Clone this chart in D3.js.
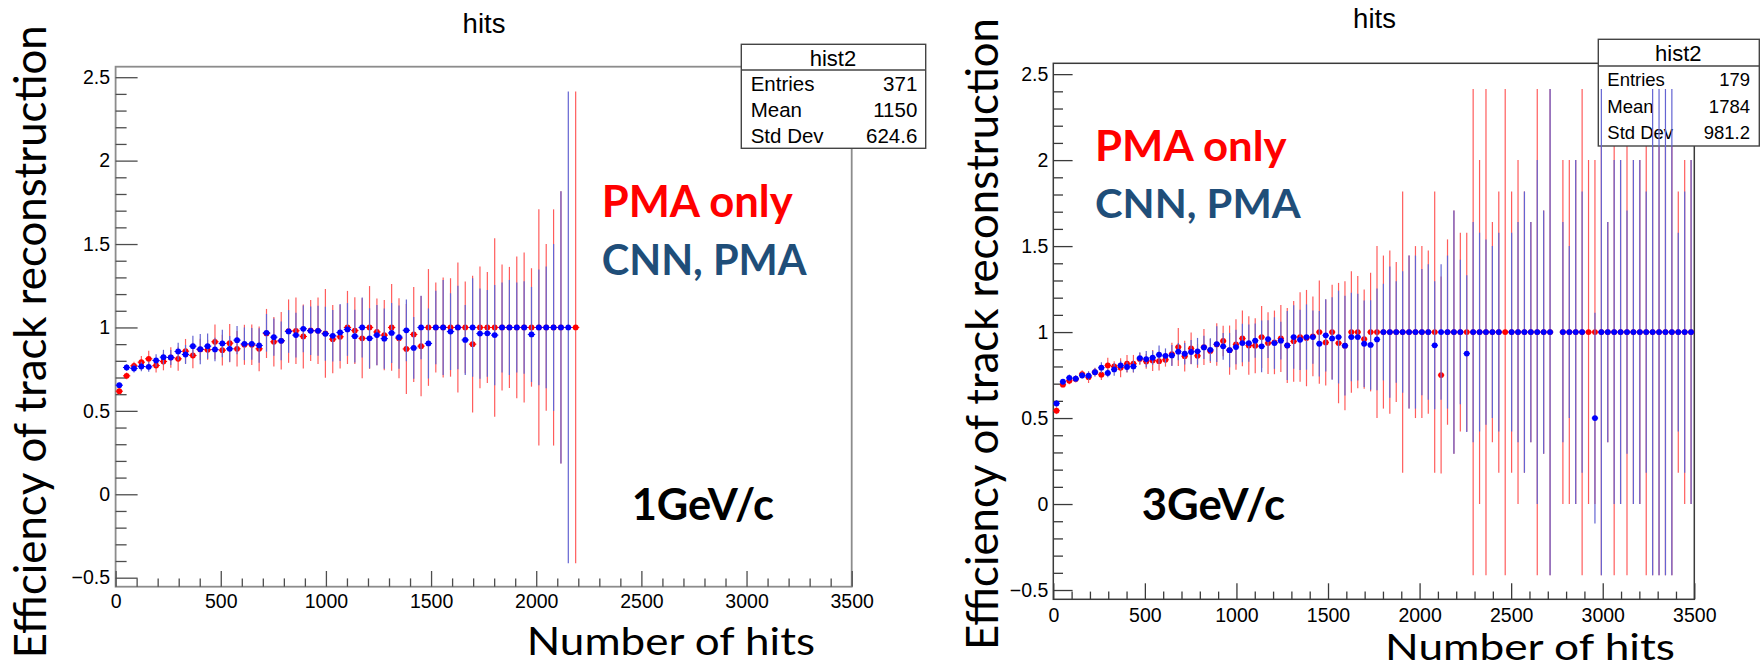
<!DOCTYPE html>
<html><head><meta charset="utf-8">
<script src="https://cdn.jsdelivr.net/npm/d3@7"></script>
<style>body{margin:0;background:#fff}svg{display:block}</style>
</head><body>
<svg id="c" width="1761" height="667"></svg>
<script>
// ---------------- DATA ----------------
const binWidth = 35;
const binCenters = [17.5,52.5,87.5,122.5,157.5,192.5,227.5,262.5,297.5,332.5,
 367.5,402.5,437.5,472.5,507.5,542.5,577.5,612.5,647.5,682.5,
 717.5,752.5,787.5,822.5,857.5,892.5,927.5,962.5,997.5,1032.5,
 1067.5,1102.5,1137.5,1172.5,1207.5,1242.5,1277.5,1312.5,1347.5,1382.5,
 1417.5,1452.5,1487.5,1522.5,1557.5,1592.5,1627.5,1662.5,1697.5,1732.5,
 1767.5,1802.5,1837.5,1872.5,1907.5,1942.5,1977.5,2012.5,2047.5,2082.5,
 2117.5,2152.5,2187.5,2222.5,2257.5,2292.5,2327.5,2362.5,2397.5,2432.5,
 2467.5,2502.5,2537.5,2572.5,2607.5,2642.5,2677.5,2712.5,2747.5,2782.5,
 2817.5,2852.5,2887.5,2922.5,2957.5,2992.5,3027.5,3062.5,3097.5,3132.5,
 3167.5,3202.5,3237.5,3272.5,3307.5,3342.5,3377.5,3412.5,3447.5,3482.5];

const xTicks = [0,500,1000,1500,2000,2500,3000,3500];
const xTickLabels = ["0","500","1000","1500","2000","2500","3000","3500"];
const yTicks = [-0.5,0,0.5,1,1.5,2,2.5];
const yTickLabels = ["\u22120.5","0","0.5","1","1.5","2","2.5"];

// 1 GeV/c panel
const leftPMA = [0.618,0.710,0.770,0.792,0.812,0.772,0.796,0.820,0.812,0.858,
 0.832,0.868,0.866,0.914,0.864,0.906,0.872,0.896,0.896,0.872,
 0.964,0.914,0.920,0.978,0.980,0.946,0.982,0.980,0.964,0.930,
 0.944,1.0,0.981,0.935,1.0,0.973,0.954,1.0,0.935,0.871,
 0.958,0.888,1.0,1.0,1.0,1.0,1.0,1.0,0.900,1.0,
 1.0,1.0,1.0,1.0,1.0,1.0,1.0,1.0,1.0,1.0,
 1.0,null,1.0];
const leftPMAErr = [0.020,0.020,0.025,0.037,0.048,0.042,0.053,0.062,0.072,0.073,
 0.076,0.065,0.060,0.104,0.092,0.115,0.106,0.120,0.121,0.134,
 0.147,0.148,0.172,0.190,0.199,0.192,0.183,0.199,0.266,0.205,
 0.190,0.219,0.200,0.240,0.248,0.200,0.210,0.260,0.240,0.270,
 0.285,0.300,0.350,0.270,0.300,0.295,0.390,0.275,0.410,0.365,
 0.333,0.535,0.378,0.363,0.425,0.450,0.355,0.708,0.500,0.708,
 0.816,null,1.414];
const leftCNN = [0.654,0.760,0.754,0.766,0.764,0.802,0.822,0.820,0.856,0.838,
 0.888,0.870,0.888,0.868,0.904,0.872,0.924,0.902,0.902,0.892,
 0.968,0.942,0.920,0.976,0.954,0.992,0.980,0.980,0.962,0.950,
 0.970,0.988,0.948,1.0,0.935,0.954,0.933,0.967,0.942,0.983,
 0.877,1.0,0.904,1.0,1.0,0.975,1.0,0.925,1.0,0.963,
 0.965,0.954,1.0,1.0,1.0,1.0,0.958,1.0,1.0,1.0,
 1.0,1.0,null];
const leftCNNErr = [0.015,0.020,0.024,0.028,0.030,0.038,0.044,0.045,0.052,0.057,
 0.062,0.090,0.075,0.070,0.082,0.077,0.084,0.098,0.095,0.103,
 0.113,0.112,0.116,0.128,0.134,0.140,0.145,0.150,0.162,0.154,
 0.171,0.158,0.158,0.180,0.180,0.180,0.180,0.180,0.190,0.185,
 0.185,0.190,0.210,0.220,0.285,0.230,0.250,0.210,0.295,0.270,
 0.260,0.300,0.270,0.285,0.270,0.277,0.285,0.347,0.365,0.500,
 0.816,1.414,null];

// 3 GeV/c panel
const rightPMA = [0.543,0.694,0.717,0.727,0.756,0.738,0.767,0.752,0.806,0.800,
 0.793,0.816,0.816,0.843,0.829,0.835,0.831,0.839,0.872,0.913,
 0.860,0.905,0.862,0.913,0.890,0.928,0.948,0.895,0.928,0.963,
 0.922,0.921,0.971,0.936,0.940,0.963,0.922,0.946,0.971,0.965,
 0.975,1.0,0.940,1.0,0.936,0.921,1.0,1.0,0.959,1.0,
 1.0,1.0,1.0,1.0,1.0,1.0,1.0,1.0,1.0,1.0,
 0.750,1.0,1.0,1.0,1.0,1.0,1.0,1.0,1.0,1.0,
 1.0,1.0,1.0,1.0,1.0,1.0,1.0,1.0,null,1.0,
 1.0,1.0,1.0,1.0,1.0,1.0,1.0,1.0,1.0,1.0,
 1.0,1.0,1.0,1.0,1.0,1.0,1.0,1.0,1.0,1.0];
const rightPMAErr = [0.020,0.015,0.020,0.020,0.022,0.034,0.025,0.030,0.045,0.030,
 0.055,0.051,0.051,0.035,0.043,0.061,0.054,0.040,0.066,0.110,
 0.090,0.092,0.070,0.105,0.070,0.124,0.089,0.143,0.147,0.162,
 0.170,0.160,0.180,0.180,0.185,0.195,0.218,0.235,0.260,0.280,
 0.232,0.300,0.250,0.275,0.350,0.375,0.353,0.326,0.289,0.345,
 0.500,0.445,0.475,0.407,0.818,0.445,0.500,0.500,0.475,0.818,
 0.573,0.539,0.707,0.578,0.578,1.414,1.000,1.414,0.640,0.818,
 1.414,0.818,1.000,0.818,0.640,1.414,0.707,1.414,null,1.000,
 1.000,1.000,1.414,1.000,1.000,1.414,0.640,1.414,1.000,1.414,
 1.000,1.000,1.414,1.414,1.414,1.414,1.414,0.818,1.000,1.000];
const rightCNN = [0.585,0.711,0.734,0.729,0.748,0.746,0.767,0.793,0.762,0.783,
 0.806,0.797,0.800,0.849,0.843,0.851,0.868,0.862,0.864,0.886,
 0.874,0.884,0.888,0.911,0.897,0.930,0.917,0.895,0.913,0.936,
 0.936,0.950,0.917,0.959,0.936,0.950,0.922,0.971,0.955,0.971,
 0.971,0.932,0.981,0.963,0.971,0.921,0.971,0.971,0.932,0.925,
 0.957,1.0,1.0,1.0,1.0,1.0,1.0,1.0,1.0,0.923,
 1.0,1.0,1.0,1.0,0.875,1.0,1.0,1.0,1.0,1.0,
 null,1.0,1.0,1.0,1.0,1.0,1.0,1.0,null,1.0,
 1.0,1.0,1.0,null,0.500,1.0,1.0,1.0,1.0,1.0,
 1.0,1.0,1.0,1.0,1.0,1.0,1.0,1.0,1.0,1.0];
const rightCNNErr = [0.020,0.015,0.020,0.020,0.020,0.025,0.024,0.031,0.025,0.037,
 0.027,0.030,0.034,0.034,0.047,0.041,0.054,0.043,0.061,0.050,
 0.063,0.070,0.078,0.068,0.067,0.104,0.078,0.100,0.100,0.112,
 0.108,0.100,0.150,0.110,0.150,0.110,0.200,0.185,0.175,0.190,
 0.155,0.190,0.210,0.240,0.270,0.290,0.257,0.252,0.252,0.260,
 0.296,0.281,0.382,0.295,0.353,0.445,0.445,0.367,0.394,0.372,
 0.394,0.445,0.707,0.420,0.456,0.640,0.578,0.539,0.500,0.578,
 null,0.578,0.640,0.818,0.640,1.000,0.707,1.414,null,0.640,
 0.500,1.000,0.818,null,0.613,1.414,0.640,1.000,1.000,0.707,
 1.000,1.000,0.818,1.414,1.414,1.414,1.414,0.578,0.818,1.000];

const statLabels = ["Entries","Mean","Std Dev"];
const leftStats = ["371","1150","624.6"];
const rightStats = ["179","1784","981.2"];
const histName = "hist2";
const plotTitle = "hits";
const xTitle = "Number of hits";
const yTitle = "Efficiency of track reconstruction";
const seriesNames = ["PMA only","CNN, PMA"];
const panelLabels = ["1GeV/c","3GeV/c"];

// ---------------- DRAW ----------------
const svg = d3.select("#c");
svg.append("rect").attr("width",1761).attr("height",667).attr("fill","#fff");

const ROOTFONT = "'Liberation Sans', Arial, Helvetica, sans-serif";
const OFFICEFONT = "Lato, 'Open Sans', sans-serif";

const panels = [
 {x0:115.6,x1:851.7,y0:66.7,y1:586.7, frameColor:"#8c8c8c", frameW:1.8, tickColor:"#4d4d4d",
  yMajor:22, yMinor:11, xMajor:15.7, xMinor:8.3, xPad:7.8, yPad:5.5,
  pma:leftPMA, pmaErr:leftPMAErr, cnn:leftCNN, cnnErr:leftCNNErr,
  title:{x:484,y:33.3},
  stats:{x0:741.3,x1:925.7,y0:44.3,y1:148.3,sep:70,hx:833,hy:65.5,rows:[90.7,117.3,142.7],lx:750.7,vx:917.3,fs:20.5,hfs:22,vals:leftStats},
  leg1:{x:601.7,y:216.7,w:191,fs:43}, leg2:{x:601.7,y:275,w:205,fs:42},
  lab:{x:631.7,y:520,w:142.3,fs:44.5,text:panelLabels[0]},
  xt:{x:526.7,y:655,w:288.3,fs:39.5},
  yt:{x:45.9,y:658.3,w:633,fs:44.5}},
 {x0:1053.3,x1:1694.3,y0:63.3,y1:599.3, frameColor:"#3a3a3a", frameW:1.5, tickColor:"#3a3a3a",
  yMajor:19.3, yMinor:9.7, xMajor:16, xMinor:7.7, xPad:8.6, yPad:5,
  pma:rightPMA, pmaErr:rightPMAErr, cnn:rightCNN, cnnErr:rightCNNErr,
  title:{x:1374.5,y:28.3},
  stats:{x0:1598.3,x1:1759.3,y0:39.3,y1:146,sep:66,hx:1678.3,hy:61,rows:[86,113.3,139.3],lx:1607.3,vx:1750,fs:18.5,hfs:22,vals:rightStats},
  leg1:{x:1095,y:161,w:191.7,fs:42}, leg2:{x:1095,y:218.3,w:205.7,fs:41},
  lab:{x:1141.7,y:520,w:143.3,fs:43.5,text:panelLabels[1]},
  xt:{x:1385,y:659.5,w:290,fs:37},
  yt:{x:998.3,y:650,w:632,fs:44}}
];

const yDomain = [-0.554, 2.563];
const xDomain = [0, 3500];
const xMinorTicks = d3.range(0, 3501, 100).filter(v => v % 500 !== 0);
const yMinorTicks = d3.range(-5, 26).map(k => k/10).filter(v => Math.abs(v*2 - Math.round(v*2)) > 1e-6);

function drawSeries(g, x, y, vals, errs, barColor, dotColor) {
  const data = binCenters.map((c,i)=>({c, v: vals[i], e: errs[i]})).filter(d => d.v != null);
  const s = g.append("g");
  s.selectAll("line.v").data(data).join("line").attr("class","v")
    .attr("x1",d=>x(d.c)).attr("x2",d=>x(d.c))
    .attr("y1",d=>y(d.v-(d.e||0))).attr("y2",d=>y(d.v+(d.e||0)))
    .attr("stroke",barColor).attr("stroke-width",1.2);
  s.selectAll("line.h").data(data).join("line").attr("class","h")
    .attr("x1",d=>x(d.c-binWidth/2)).attr("x2",d=>x(d.c+binWidth/2))
    .attr("y1",d=>y(d.v)).attr("y2",d=>y(d.v))
    .attr("stroke",dotColor).attr("stroke-width",1);
  s.selectAll("circle").data(data).join("circle")
    .attr("cx",d=>x(d.c)).attr("cy",d=>y(d.v)).attr("r",2.9)
    .attr("fill",dotColor);
}

panels.forEach((p, pi) => {
  const x = d3.scaleLinear().domain(xDomain).range([p.x0, p.x1]);
  const y = d3.scaleLinear().domain(yDomain).range([p.y1, p.y0]);
  const g = svg.append("g");

  g.append("text").attr("x",p.title.x).attr("y",p.title.y).attr("text-anchor","middle")
    .attr("font-family",ROOTFONT).attr("font-size",27.5).attr("fill","#000").text(plotTitle);

  g.append("rect").attr("x",p.x0).attr("y",p.y0).attr("width",p.x1-p.x0).attr("height",p.y1-p.y0)
    .attr("fill","none").attr("stroke",p.frameColor).attr("stroke-width",p.frameW);

  const xa = g.append("g").attr("transform",`translate(0,${p.y1})`)
    .call(d3.axisBottom(x).tickValues(xTicks).tickFormat((d,i)=>xTickLabels[i])
      .tickSizeInner(-p.xMajor).tickSizeOuter(0).tickPadding(p.xPad));
  const xm = g.append("g").attr("transform",`translate(0,${p.y1})`)
    .call(d3.axisBottom(x).tickValues(xMinorTicks).tickFormat("").tickSizeInner(-p.xMinor).tickSizeOuter(0));
  const ya = g.append("g").attr("transform",`translate(${p.x0},0)`)
    .call(d3.axisLeft(y).tickValues(yTicks).tickFormat((d,i)=>yTickLabels[i])
      .tickSizeInner(-p.yMajor).tickSizeOuter(0).tickPadding(p.yPad));
  const ym = g.append("g").attr("transform",`translate(${p.x0},0)`)
    .call(d3.axisLeft(y).tickValues(yMinorTicks).tickFormat("").tickSizeInner(-p.yMinor).tickSizeOuter(0));
  [xa,xm,ya,ym].forEach(a => {
    a.select(".domain").remove();
    a.selectAll("line").attr("stroke",p.tickColor).attr("stroke-width",1.3);
    a.selectAll("text").attr("font-family",ROOTFONT).attr("font-size",19.5).attr("fill","#000");
  });

  // red series (PMA only)
  drawSeries(g, x, y, p.pma, p.pmaErr, "#ff5c5c", "#ff0000");

  // stats box
  const st = p.stats;
  const sb = g.append("g");
  sb.append("rect").attr("x",st.x0).attr("y",st.y0).attr("width",st.x1-st.x0).attr("height",st.y1-st.y0)
    .attr("fill","#fff").attr("stroke","#444").attr("stroke-width",1.4);
  sb.append("line").attr("x1",st.x0).attr("x2",st.x1).attr("y1",st.sep).attr("y2",st.sep)
    .attr("stroke","#444").attr("stroke-width",1.4);
  sb.append("text").attr("x",st.hx).attr("y",st.hy).attr("text-anchor","middle")
    .attr("font-family",ROOTFONT).attr("font-size",st.hfs).text(histName);
  statLabels.forEach((l,i)=>{
    sb.append("text").attr("x",st.lx).attr("y",st.rows[i]).attr("font-family",ROOTFONT)
      .attr("font-size",st.fs).text(l);
    sb.append("text").attr("x",st.vx).attr("y",st.rows[i]).attr("text-anchor","end")
      .attr("font-family",ROOTFONT).attr("font-size",st.fs).text(st.vals[i]);
  });

  // blue series (CNN, PMA)
  drawSeries(g, x, y, p.cnn, p.cnnErr, "#6464d2", "#0000ff");

  const txt = (o, s, color, weight) => g.append("text").attr("x",o.x).attr("y",o.y)
    .attr("font-family",OFFICEFONT).attr("font-weight",weight).attr("font-size",o.fs)
    .attr("fill",color).attr("textLength",o.w).attr("lengthAdjust","spacingAndGlyphs").text(s);
  txt(p.leg1, seriesNames[0], "#ff0000", 700);
  txt(p.leg2, seriesNames[1], "#1f4e79", 700);
  txt(p.lab, p.lab.text, "#000", 700);
  txt(p.xt, xTitle, "#000", 400);
  g.append("text").attr("transform",`translate(${p.yt.x},${p.yt.y}) rotate(-90)`)
    .attr("font-family",OFFICEFONT).attr("font-size",p.yt.fs).attr("fill","#000")
    .attr("textLength",p.yt.w).attr("lengthAdjust","spacingAndGlyphs").text(yTitle);
});
</script>
</body></html>
